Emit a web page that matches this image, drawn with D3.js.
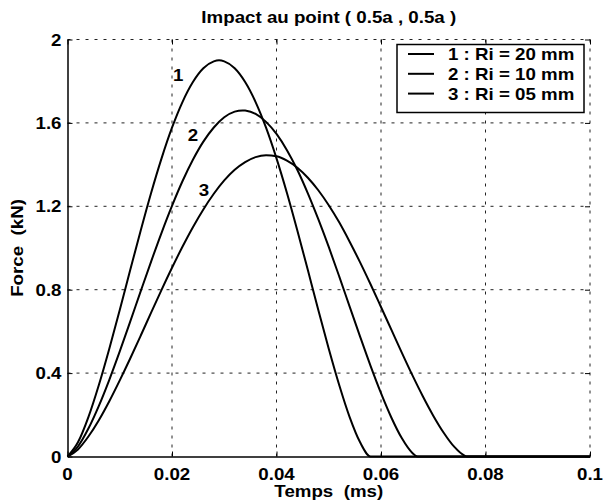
<!DOCTYPE html>
<html><head><meta charset="utf-8">
<script src="https://cdn.jsdelivr.net/npm/d3@7"></script>
<style>body{margin:0;background:#fff}svg{display:block;font-family:Arial,"Liberation Sans",sans-serif}svg text{white-space:pre}</style>
</head><body><svg id="c" width="603" height="504"></svg>
<script>
const title = "Impact au point ( 0.5a , 0.5a )";
const xLabel = "Temps  (ms)";
const yLabel = "Force  (kN)";
const xTicks = [0, 0.02, 0.04, 0.06, 0.08, 0.1];
const xTickLabels = ["0", "0.02", "0.04", "0.06", "0.08", "0.1"];
const yTicks = [0, 0.4, 0.8, 1.2, 1.6, 2];
const yTickLabels = ["0", "0.4", "0.8", "1.2", "1.6", "2"];
const seriesNames = ["1 : Ri = 20 mm", "2 : Ri = 10 mm", "3 : Ri = 05 mm"];
const curveTags = ["1", "2", "3"];
const tagPos = [[0.0212, 1.83], [0.0240, 1.54], [0.0261, 1.28]];

const t1 = [0,0.002,0.004,0.006,0.008,0.010,0.012,0.014,0.016,0.018,0.020,0.022,0.024,0.026,0.028,0.029,0.030,0.032,0.034,0.036,0.038,0.040,0.042,0.044,0.046,0.048,0.050,0.052,0.054,0.056,0.058,0.1];
const f1 = [0,0.068,0.189,0.343,0.517,0.703,0.894,1.083,1.264,1.430,1.577,1.700,1.796,1.862,1.895,1.900,1.895,1.862,1.796,1.700,1.577,1.430,1.264,1.083,0.894,0.703,0.517,0.343,0.189,0.068,0,0];

const t2 = [0,0.002,0.004,0.006,0.008,0.010,0.012,0.014,0.016,0.018,0.020,0.022,0.024,0.026,0.028,0.030,0.032,0.0335,0.034,0.036,0.038,0.040,0.042,0.044,0.046,0.048,0.050,0.052,0.054,0.056,0.058,0.060,0.062,0.064,0.066,0.067,0.1];
const f2 = [0,0.048,0.134,0.243,0.368,0.504,0.647,0.792,0.935,1.073,1.202,1.320,1.423,1.510,1.578,1.627,1.654,1.660,1.659,1.643,1.605,1.547,1.469,1.374,1.262,1.138,1.005,0.864,0.719,0.575,0.435,0.304,0.186,0.087,0.017,0,0];

const t3 = [0,0.002,0.004,0.006,0.008,0.010,0.012,0.014,0.016,0.018,0.020,0.022,0.024,0.026,0.028,0.030,0.032,0.034,0.036,0.038,0.040,0.042,0.044,0.046,0.048,0.050,0.052,0.054,0.056,0.058,0.060,0.062,0.064,0.066,0.068,0.070,0.072,0.074,0.076,0.0765,0.1];
const f3 = [0,0.034,0.096,0.174,0.265,0.365,0.470,0.579,0.690,0.799,0.905,1.006,1.100,1.185,1.260,1.324,1.375,1.412,1.436,1.445,1.440,1.419,1.385,1.337,1.277,1.205,1.123,1.030,0.931,0.826,0.717,0.607,0.497,0.390,0.289,0.196,0.114,0.047,0.004,0,0];

const times = [t1, t2, t3];
const forces = [f1, f2, f3];

const svg = d3.select("#c");
const L = 67.5, R = 590, T = 39.5, B = 456.5;
const FS = 16, SX = 1.17;
const x = d3.scaleLinear().domain([0, 0.1]).range([L, R]);
const y = d3.scaleLinear().domain([0, 2]).range([B, T]);

function label(px, py, s, anchor, rot, size) {
  return svg.append("text")
    .attr("transform", `translate(${px},${py})` + (rot ? ` rotate(${rot})` : "") + ` scale(${SX},1)`)
    .attr("text-anchor", anchor).attr("font-size", size || FS).attr("font-weight", "bold")
    .attr("fill", "#000").text(s);
}

// grid
const g = svg.append("g");
xTicks.forEach(v => { if (v > 0) g.append("line").attr("x1", x(v)).attr("x2", x(v)).attr("y1", B).attr("y2", T)
  .attr("stroke", "#222").attr("stroke-width", 1).attr("stroke-dasharray", "3,6"); });
yTicks.forEach(v => { if (v > 0) g.append("line").attr("x1", L).attr("x2", R).attr("y1", y(v)).attr("y2", y(v))
  .attr("stroke", "#222").attr("stroke-width", 1).attr("stroke-dasharray", "3,6"); });

// axes (lines and ticks from d3 axes, labels stretched)
const ax = svg.append("g").attr("transform", `translate(0,${B})`)
  .call(d3.axisBottom(x).tickValues(xTicks).tickFormat("").tickSizeInner(-5).tickSizeOuter(0));
const ay = svg.append("g").attr("transform", `translate(${L},0)`)
  .call(d3.axisLeft(y).tickValues(yTicks).tickFormat("").tickSizeInner(-5).tickSizeOuter(0));
[ax, ay].forEach(a => {
  a.select(".domain").attr("stroke", "#000").attr("stroke-width", 1.5);
  a.selectAll(".tick line").attr("stroke", "#000");
});
xTicks.forEach((v, i) => label(x(v), B + 23, xTickLabels[i], "middle"));
yTicks.forEach((v, i) => label(L - 6, y(v) + 6, yTickLabels[i], "end"));

// top/right tick marks
const at = svg.append("g").attr("transform", `translate(0,${T})`)
  .call(d3.axisTop(x).tickValues(xTicks).tickFormat("").tickSizeInner(-5).tickSizeOuter(0));
const ar = svg.append("g").attr("transform", `translate(${R},0)`)
  .call(d3.axisRight(y).tickValues(yTicks).tickFormat("").tickSizeInner(-5).tickSizeOuter(0));
[at, ar].forEach(a => { a.select(".domain").remove(); a.selectAll(".tick line").attr("stroke", "#000"); });

// curves
const line = d3.line().x(d => x(d[0])).y(d => y(d[1])).curve(d3.curveMonotoneX);
times.forEach((ts, i) => {
  const pts = ts.map((t, j) => [t, forces[i][j]]);
  svg.append("path").attr("d", line(pts)).attr("fill", "none").attr("stroke", "#000").attr("stroke-width", 2);
});

// curve tags
curveTags.forEach((s, i) => label(x(tagPos[i][0]), y(tagPos[i][1]) + 6, s, "middle"));

// legend
const lg = svg.append("g");
lg.append("rect").attr("x", 397).attr("y", 44.5).attr("width", 187).attr("height", 68)
  .attr("fill", "#fff").attr("stroke", "#000").attr("stroke-width", 1.5);
seriesNames.forEach((s, i) => {
  const yy = 54 + i * 19.8;
  lg.append("line").attr("x1", 408).attr("x2", 434).attr("y1", yy).attr("y2", yy).attr("stroke", "#000").attr("stroke-width", 2);
  label(448, yy + 6, s, "start");
});

// title and axis labels
label((L + R) / 2, 23, title, "middle");
label((L + R) / 2, 497, xLabel, "middle");
label(23, (T + B) / 2, yLabel, "middle", -90);
</script></body></html>
